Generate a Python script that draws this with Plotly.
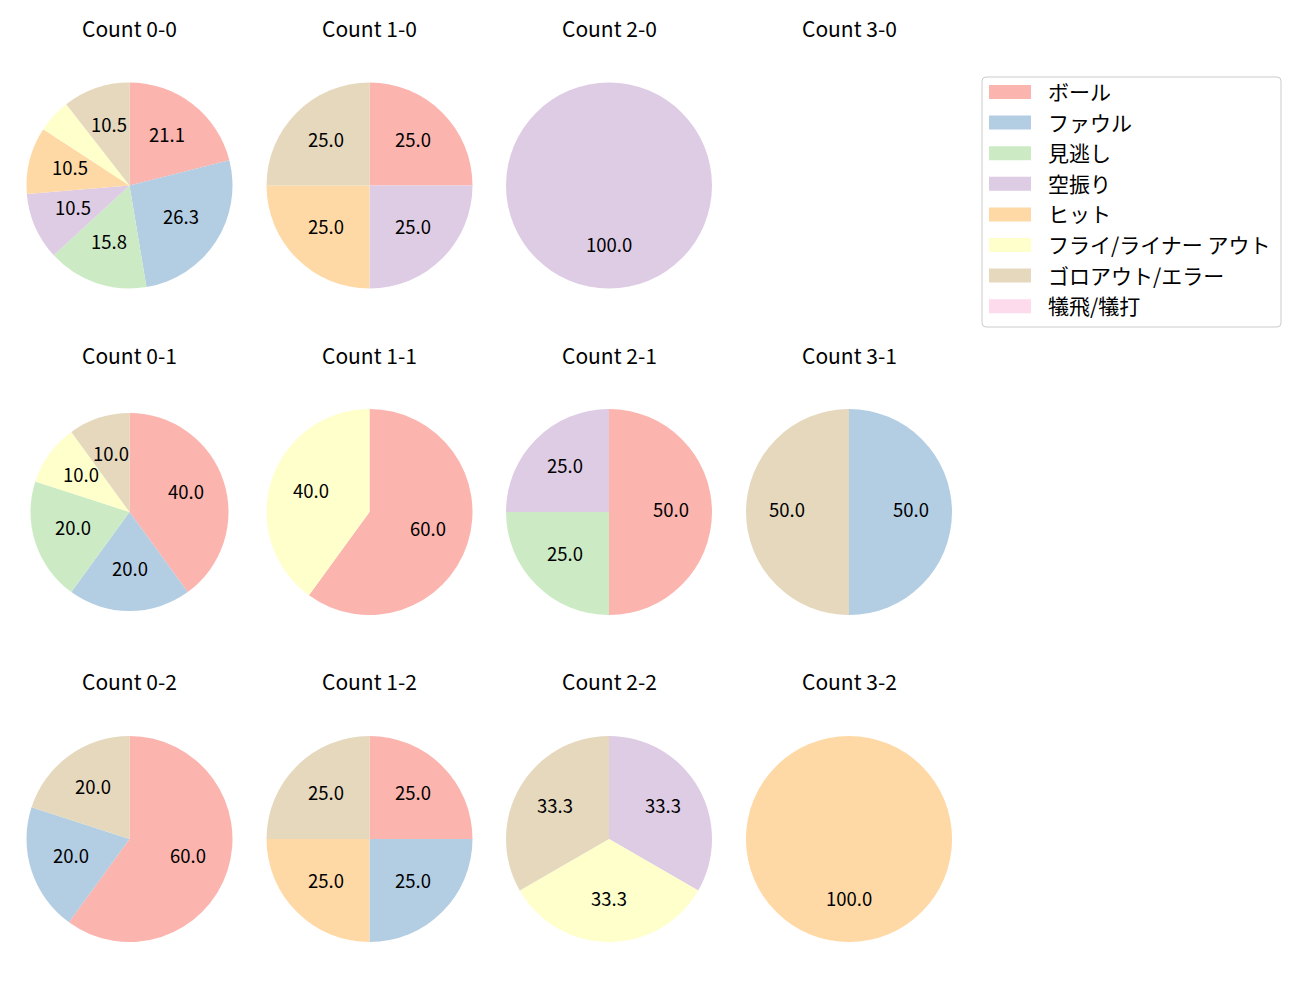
import math
import plotly.graph_objects as go

categories = ["ボール", "ファウル", "見逃し", "空振り", "ヒット", "フライ/ライナー アウト", "ゴロアウト/エラー", "犠飛/犠打"]
colors = ["#fbb4ae", "#b3cde3", "#ccebc5", "#decbe4", "#fed9a6", "#ffffcc", "#e5d8bd", "#fddaec"]

# counts per category for each ball-strike count (order matches categories)
counts = {
    "0-0": [4, 5, 3, 2, 2, 1, 2, 0],
    "1-0": [1, 0, 0, 1, 1, 0, 1, 0],
    "2-0": [0, 0, 0, 1, 0, 0, 0, 0],
    "3-0": [0, 0, 0, 0, 0, 0, 0, 0],
    "0-1": [4, 2, 2, 0, 0, 1, 1, 0],
    "1-1": [3, 0, 0, 0, 0, 2, 0, 0],
    "2-1": [2, 0, 1, 1, 0, 0, 0, 0],
    "3-1": [0, 1, 0, 0, 0, 0, 1, 0],
    "0-2": [3, 1, 0, 0, 0, 0, 1, 0],
    "1-2": [1, 1, 0, 0, 1, 0, 1, 0],
    "2-2": [0, 0, 0, 1, 0, 1, 1, 0],
    "3-2": [0, 0, 0, 0, 1, 0, 0, 0],
}

W, H = 1300, 1000
col_cx = [129.5, 369.5, 609, 849]
row_cy = [185.5, 512, 839]
title_y = [28, 355, 681]
radius = {"0-1": 99}
R_DEFAULT = 103
FONT = "Noto Sans CJK JP"
TEXT_DY = -3  # vertical baseline correction for the label font

fig = go.Figure()
annotations = []
for row in range(3):
    for col in range(4):
        key = f"{col}-{row}"
        cx, cy = col_cx[col], row_cy[row]
        r = radius.get(key, R_DEFAULT)
        annotations.append(dict(x=cx / W, y=1 - title_y[row] / H, xref="paper", yref="paper",
                                text=f"Count {key}", showarrow=False, xanchor="center", yanchor="middle",
                                font=dict(family=FONT, size=21, color="#000000")))
        vals = counts[key]
        total = sum(vals)
        if total == 0:
            continue
        fig.add_trace(go.Pie(
            labels=categories, values=vals, sort=False, direction="clockwise", rotation=0,
            marker=dict(colors=colors, line=dict(width=0)),
            textinfo="none", hoverinfo="label+percent", showlegend=False,
            domain=dict(x=[(cx - r) / W, (cx + r) / W], y=[1 - (cy + r) / H, 1 - (cy - r) / H]),
        ))
        cum = 0.0
        for v in vals:
            if v == 0:
                continue
            pct = 100.0 * v / total
            mid = (cum + v / 2) / total * 2 * math.pi
            cum += v
            if pct < 6:
                continue
            px = cx + 0.6 * r * math.sin(mid)
            py = cy - 0.6 * r * math.cos(mid) + TEXT_DY
            annotations.append(dict(x=px / W, y=1 - py / H, xref="paper", yref="paper",
                                    text=f"{pct:.1f}", showarrow=False, xanchor="center", yanchor="middle",
                                    font=dict(family=FONT, size=18.5, color="#000000")))

# legend (built from categories/colors)
shapes = []
lx0, ly0, lx1, ly1 = 982, 77, 1281, 327
rr = 4
path = (f"M {lx0 + rr},{ly0} L {lx1 - rr},{ly0} Q {lx1},{ly0} {lx1},{ly0 + rr} "
        f"L {lx1},{ly1 - rr} Q {lx1},{ly1} {lx1 - rr},{ly1} L {lx0 + rr},{ly1} "
        f"Q {lx0},{ly1} {lx0},{ly1 - rr} L {lx0},{ly0 + rr} Q {lx0},{ly0} {lx0 + rr},{ly0} Z")
shapes.append(dict(type="path", xref="x", yref="y", path=path,
                   line=dict(color="#cccccc", width=1), fillcolor="rgba(255,255,255,0.8)"))
for i, (cat, c) in enumerate(zip(categories, colors)):
    yc = 92 + i * 30.6
    shapes.append(dict(type="rect", xref="x", yref="y", x0=989, x1=1031, y0=yc - 7, y1=yc + 7,
                       line=dict(width=0), fillcolor=c))
    annotations.append(dict(x=1046, y=yc - 1, xref="x", yref="y", text=cat, showarrow=False,
                            xanchor="left", yanchor="middle",
                            font=dict(family=FONT, size=21, color="#000000")))

fig.update_layout(
    width=W, height=H, margin=dict(l=0, r=0, t=0, b=0),
    paper_bgcolor="white", plot_bgcolor="rgba(0,0,0,0)",
    xaxis=dict(range=[0, W], visible=False, domain=[0, 1], fixedrange=True),
    yaxis=dict(range=[H, 0], visible=False, domain=[0, 1], fixedrange=True),
    annotations=annotations, shapes=shapes, showlegend=False,
)
fig.write_html("out.html", config={"displayModeBar": False},
               post_script="document.body.style.margin='0';")
